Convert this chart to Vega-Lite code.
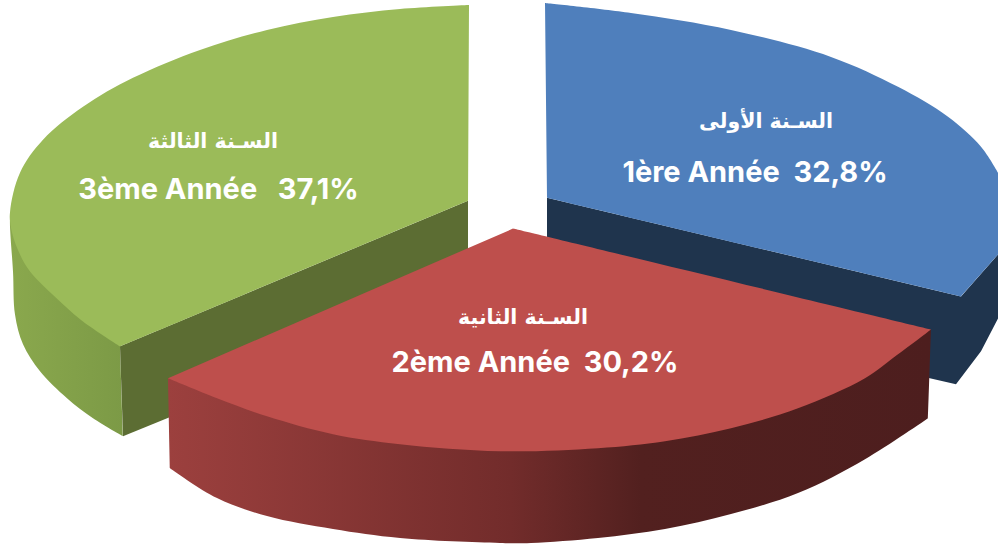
{
"$schema":"https://vega.github.io/schema/vega-lite/v6.json",
"autosize":{"type":"fit","contains":"padding"},
"width":998,"height":544,"padding":0,
"background":"white",
"view":{"stroke":null},
"datasets":{
"greenSide":[{"x":10,"y":213,"i":0},{"x":10,"y":227,"i":1},{"x":13,"y":272,"i":2},{"x":15,"y":315,"i":3},{"x":23,"y":345,"i":4},{"x":40,"y":372,"i":5},{"x":67,"y":399,"i":6},{"x":93,"y":419,"i":7},{"x":123,"y":437,"i":8},{"x":123,"y":437,"i":9},{"x":120,"y":347,"i":10},{"x":120,"y":347,"i":11}],
"greenInner":[{"x":120,"y":347,"i":1},{"x":468,"y":201,"i":2},{"x":468,"y":296,"i":3},{"x":123,"y":437,"i":4}],
"greenTop":[{"x":469,"y":5,"i":0},{"x":469,"y":5,"i":1},{"x":400,"y":9,"i":2},{"x":333,"y":17,"i":3},{"x":267,"y":30,"i":4},{"x":200,"y":50,"i":5},{"x":133,"y":78,"i":6},{"x":83,"y":107,"i":7},{"x":43,"y":140,"i":8},{"x":20,"y":173,"i":9},{"x":10,"y":213,"i":10},{"x":12,"y":233,"i":11},{"x":20,"y":255,"i":12},{"x":30,"y":272,"i":13},{"x":60,"y":302,"i":14},{"x":83,"y":322,"i":15},{"x":120,"y":347,"i":16},{"x":120,"y":347,"i":17},{"x":468,"y":201,"i":18},{"x":468,"y":201,"i":19}],
"blueSide":[{"x":547,"y":198,"i":1},{"x":961,"y":297,"i":2},{"x":998,"y":255,"i":3},{"x":998,"y":319,"i":4},{"x":981,"y":352,"i":5},{"x":956,"y":385,"i":6},{"x":547,"y":291,"i":7}],
"blueTop":[{"x":545,"y":3,"i":0},{"x":545,"y":3,"i":1},{"x":631,"y":13,"i":2},{"x":731,"y":30,"i":3},{"x":831,"y":57,"i":4},{"x":898,"y":87,"i":5},{"x":948,"y":117,"i":6},{"x":981,"y":147,"i":7},{"x":998,"y":173,"i":8},{"x":998,"y":173,"i":9},{"x":998,"y":255,"i":10},{"x":998,"y":255,"i":11},{"x":961,"y":297,"i":12},{"x":961,"y":297,"i":13},{"x":547,"y":198,"i":14},{"x":547,"y":198,"i":15}],
"redSide":[{"x":168,"y":379,"i":0},{"x":168,"y":379,"i":1},{"x":170,"y":469,"i":2},{"x":170,"y":469,"i":3},{"x":217,"y":499,"i":4},{"x":267,"y":517,"i":5},{"x":333,"y":530,"i":6},{"x":400,"y":539,"i":7},{"x":500,"y":544,"i":8},{"x":531,"y":544,"i":9},{"x":598,"y":539,"i":10},{"x":665,"y":530,"i":11},{"x":731,"y":515,"i":12},{"x":798,"y":494,"i":13},{"x":865,"y":460,"i":14},{"x":928,"y":419,"i":15},{"x":928,"y":419,"i":16},{"x":931,"y":330,"i":17},{"x":931,"y":330,"i":18}],
"redTop":[{"x":513,"y":229,"i":0},{"x":513,"y":229,"i":1},{"x":931,"y":330,"i":2},{"x":931,"y":330,"i":3},{"x":898,"y":355,"i":4},{"x":865,"y":379,"i":5},{"x":798,"y":409,"i":6},{"x":731,"y":429,"i":7},{"x":665,"y":442,"i":8},{"x":598,"y":449,"i":9},{"x":500,"y":452,"i":10},{"x":400,"y":445,"i":11},{"x":333,"y":435,"i":12},{"x":267,"y":417,"i":13},{"x":217,"y":399,"i":14},{"x":168,"y":379,"i":15},{"x":168,"y":379,"i":16}],
"latin":[{"x":218.5,"y":190,"label":"3ème Année\u00a0\u00a0\u00a037,1%"},{"x":755,"y":173,"label":"1ère Année\u00a0\u00a032,8%"},{"x":535,"y":364,"label":"2ème Année\u00a0\u00a030,2%"}],
"arabic":[{"x":213,"y":142,"label":"السـنة الثالثة"},{"x":766,"y":122,"label":"السـنة الأولى"},{"x":523,"y":319,"label":"السـنة الثانية"}]
},
"encoding":{
"x":{"field":"x","type":"quantitative","scale":{"domain":[0,998],"nice":false,"zero":false},"axis":null},
"y":{"field":"y","type":"quantitative","scale":{"domain":[544,0],"nice":false,"zero":false},"axis":null}
},
"layer":[
{"data":{"name":"greenSide"},"mark":{"type":"line","interpolate":"catmull-rom","filled":true,"strokeWidth":0,"fill":{"gradient":"linear","x1":0,"x2":1,"y1":0,"y2":0,"stops":[{"offset":0,"color":"#8AA84D"},{"offset":1,"color":"#7C9A46"}]}},"encoding":{"order":{"field":"i"}}},
{"data":{"name":"greenInner"},"mark":{"type":"line","filled":true,"strokeWidth":0,"fill":"#5C6D33"},"encoding":{"order":{"field":"i"}}},
{"data":{"name":"greenTop"},"mark":{"type":"line","interpolate":"catmull-rom","filled":true,"strokeWidth":0,"fill":"#9BBB59"},"encoding":{"order":{"field":"i"}}},
{"data":{"name":"blueSide"},"mark":{"type":"line","filled":true,"strokeWidth":0,"fill":"#1F344D"},"encoding":{"order":{"field":"i"}}},
{"data":{"name":"blueTop"},"mark":{"type":"line","interpolate":"catmull-rom","filled":true,"strokeWidth":0,"fill":"#4F7FBC"},"encoding":{"order":{"field":"i"}}},
{"data":{"name":"redSide"},"mark":{"type":"line","interpolate":"catmull-rom","filled":true,"strokeWidth":0,"fill":{"gradient":"linear","x1":0,"x2":1,"y1":0,"y2":0,"stops":[{"offset":0,"color":"#9C403E"},{"offset":0.45,"color":"#722C2B"},{"offset":0.62,"color":"#52201F"},{"offset":1,"color":"#4D1E1E"}]}},"encoding":{"order":{"field":"i"}}},
{"data":{"name":"redTop"},"mark":{"type":"line","interpolate":"catmull-rom","filled":true,"strokeWidth":0,"fill":"#BE4F4C"},"encoding":{"order":{"field":"i"}}},
{"data":{"name":"latin"},"mark":{"type":"text","font":"Inter","fontWeight":"bold","fontSize":29,"color":"white","align":"center","baseline":"middle"},"encoding":{"text":{"field":"label"}}},
{"data":{"name":"arabic"},"mark":{"type":"text","font":"DejaVu Sans","fontWeight":"bold","fontSize":20.5,"color":"white","align":"center","baseline":"middle"},"encoding":{"text":{"field":"label"}}}
]
}
